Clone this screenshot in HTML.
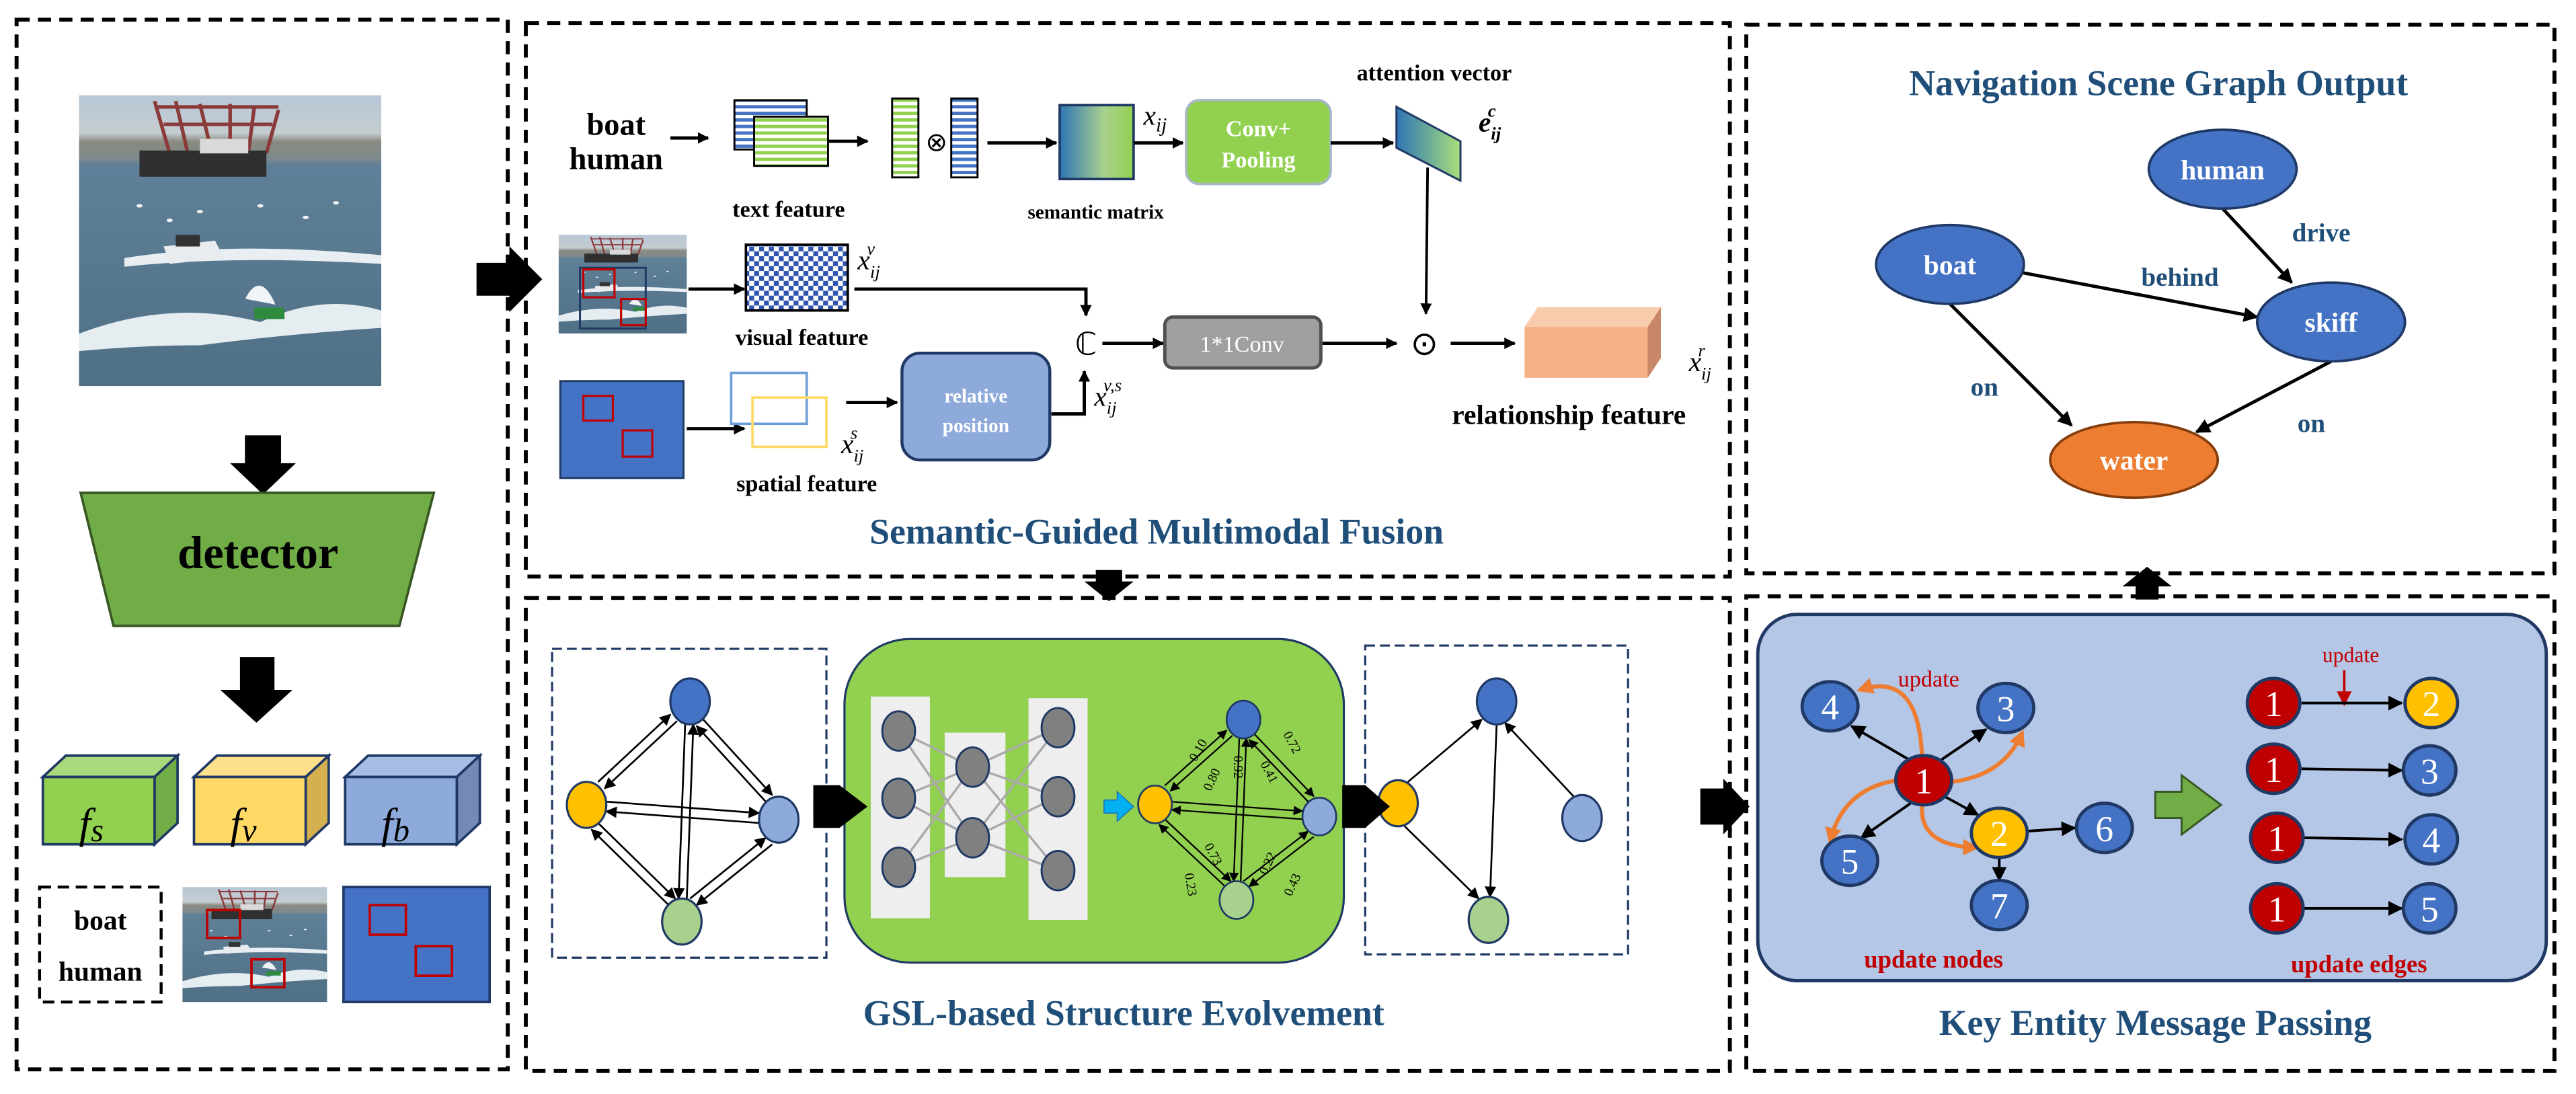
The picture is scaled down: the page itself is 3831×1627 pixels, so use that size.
<!DOCTYPE html>
<html><head><meta charset="utf-8"><style>
html,body{margin:0;padding:0;background:#fff;}
svg{display:block;}
text{font-family:"Liberation Serif",serif;}
.t{font-weight:bold;fill:#000;}
.ttl{font-weight:bold;fill:#1f4e79;}
.m{font-style:italic;}
</style></head><body>
<svg width="3831" height="1627" viewBox="0 0 1568 666" xmlns="http://www.w3.org/2000/svg">
<defs>
<marker id="a" viewBox="0 0 10 10" refX="9" refY="5" markerWidth="7" markerHeight="7" markerUnits="userSpaceOnUse" orient="auto"><path d="M0,0L10,5L0,10z" fill="#000"/></marker>
<marker id="b" viewBox="0 0 10 10" refX="9" refY="5" markerWidth="9" markerHeight="9" markerUnits="userSpaceOnUse" orient="auto"><path d="M0,0L10,5L0,10z" fill="#000"/></marker>
<marker id="o" viewBox="0 0 10 10" refX="8" refY="5" markerWidth="10" markerHeight="10" markerUnits="userSpaceOnUse" orient="auto"><path d="M0,0L10,5L0,10z" fill="#ed7d31"/></marker>
<marker id="r" viewBox="0 0 10 10" refX="9" refY="5" markerWidth="9" markerHeight="9" markerUnits="userSpaceOnUse" orient="auto"><path d="M0,0L10,5L0,10z" fill="#c00000"/></marker>
<pattern id="hb" width="4" height="4" patternUnits="userSpaceOnUse"><rect width="4" height="4" fill="#fff"/><rect width="4" height="2" fill="#4472c4"/></pattern>
<pattern id="hg" width="4" height="4" patternUnits="userSpaceOnUse"><rect width="4" height="4" fill="#fff"/><rect width="4" height="2" fill="#92d050"/></pattern>
<pattern id="ck" width="6" height="6" patternUnits="userSpaceOnUse"><rect width="6" height="6" fill="#fff"/><rect width="3" height="3" fill="#2f55b0"/><rect x="3" y="3" width="3" height="3" fill="#2f55b0"/></pattern>
<linearGradient id="sm" x1="0" x2="1"><stop offset="0" stop-color="#2e75b6"/><stop offset="0.6" stop-color="#a9d18e"/><stop offset="1" stop-color="#92d050"/></linearGradient>
<linearGradient id="ph" x1="0" y1="0" x2="0" y2="1"><stop offset="0" stop-color="#b8c8d6"/><stop offset="0.13" stop-color="#c4ccd0"/><stop offset="0.16" stop-color="#8a8a80"/><stop offset="0.22" stop-color="#7d8a8e"/><stop offset="0.24" stop-color="#5f8098"/><stop offset="1" stop-color="#4f6f85"/></linearGradient>
<g id="photo">
<rect width="100" height="100" fill="url(#ph)"/>
<g stroke="#8b3a3a" stroke-width="1.2" fill="none"><path d="M25,2L30,20M32,2L36,20M40,3L44,20M50,3L50,20M58,4L56,20M66,5L62,20M25,4L66,4M28,10L64,10"/></g>
<rect x="20" y="19" width="42" height="9" fill="#2f2f30"/>
<rect x="40" y="15" width="16" height="5" fill="#d9d9d9"/>
<g fill="#f2f2f2"><ellipse cx="20" cy="38" rx="1" ry="0.6"/><ellipse cx="40" cy="40" rx="1" ry="0.6"/><ellipse cx="60" cy="38" rx="1" ry="0.6"/><ellipse cx="75" cy="42" rx="1" ry="0.6"/><ellipse cx="85" cy="37" rx="1" ry="0.6"/><ellipse cx="30" cy="43" rx="1" ry="0.6"/></g>
<path d="M15,56Q50,50 100,55L100,58Q50,55 15,59z" fill="#e8eef2"/>
<path d="M28,52L45,50L48,56L30,58z" fill="#e9ecef"/><rect x="32" y="48" width="8" height="4" fill="#333"/>
<path d="M0,82Q30,70 60,78Q80,68 100,74L100,80Q70,82 40,86Q20,86 0,88z" fill="#e6edf1"/>
<path d="M55,70Q60,60 65,72" fill="#f0f4f6"/>
<rect x="58" y="73" width="10" height="4" fill="#2e8b3e"/>
</g>
</defs>

<g fill="none" stroke="#000" stroke-width="2.4" stroke-dasharray="8,5">
<rect x="10" y="12" width="299" height="639"/>
<rect x="320" y="14" width="733" height="337"/>
<rect x="320" y="364" width="733" height="288"/>
<rect x="1063" y="15" width="492" height="334"/>
<rect x="1063" y="363" width="492" height="289"/>
</g>

<use href="#photo" transform="translate(48,58) scale(1.84,1.77)"/>
<path d="M149,265h22v17h9l-20,19l-20,-19h9z" fill="#000"/>
<polygon points="49,300 264,300 243,381 69,381" fill="#70ad47" stroke="#375623" stroke-width="1.5"/>
<text x="157" y="346" text-anchor="middle" class="t" font-size="28">detector</text>
<path d="M146,400h21v20h11l-22,20l-22,-20h12z" fill="#000"/>
<g stroke="#1f3864" stroke-width="1.5">
<polygon points="26,473 40,460 108,460 94,473" fill="#a9d97a"/><polygon points="94,473 108,460 108,501 94,514" fill="#70ad47"/><rect x="26" y="473" width="68" height="41" fill="#92d050"/>
<polygon points="118,473 132,460 200,460 186,473" fill="#ffe08a"/><polygon points="186,473 200,460 200,501 186,514" fill="#d4b04f"/><rect x="118" y="473" width="68" height="41" fill="#ffd966"/>
<polygon points="210,473 224,460 292,460 278,473" fill="#a6bde6"/><polygon points="278,473 292,460 292,501 278,514" fill="#7489b5"/><rect x="210" y="473" width="68" height="41" fill="#8eaadb"/>
</g>
<g font-size="26" class="m"><text x="48" y="510">f<tspan font-size="20" dy="2">s</tspan></text><text x="140" y="510">f<tspan font-size="20" dy="2">v</tspan></text><text x="232" y="510">f<tspan font-size="20" dy="2">b</tspan></text></g>
<rect x="24" y="540" width="74" height="70" fill="none" stroke="#000" stroke-width="1.8" stroke-dasharray="7,4"/>
<text x="61" y="566" text-anchor="middle" class="t" font-size="17">boat</text>
<text x="61" y="597" text-anchor="middle" class="t" font-size="17">human</text>
<use href="#photo" transform="translate(111,540) scale(0.88,0.7)"/>
<rect x="126" y="554" width="20" height="17" fill="none" stroke="#c00000" stroke-width="1.5"/>
<rect x="153" y="584" width="20" height="17" fill="none" stroke="#c00000" stroke-width="1.5"/>
<rect x="209" y="540" width="89" height="70" fill="#4472c4" stroke="#1f3864" stroke-width="1.5"/>
<rect x="225" y="551" width="22" height="18" fill="none" stroke="#c00000" stroke-width="1.5"/>
<rect x="253" y="576" width="22" height="18" fill="none" stroke="#c00000" stroke-width="1.5"/>

<path d="M290,160h20v-10l20,20l-20,20v-10h-20z" fill="#000"/>

<text x="375" y="82" text-anchor="middle" class="t" font-size="19">boat</text>
<text x="375" y="103" text-anchor="middle" class="t" font-size="19">human</text>
<line x1="408" y1="84" x2="431" y2="84" stroke="#000" stroke-width="2" marker-end="url(#a)"/>
<rect x="447" y="61" width="44" height="30" fill="url(#hb)" stroke="#000" stroke-width="1.2"/>
<rect x="459" y="71" width="45" height="30" fill="url(#hg)" stroke="#000" stroke-width="1.2"/>
<line x1="504" y1="86" x2="528" y2="86" stroke="#000" stroke-width="2" marker-end="url(#a)"/>
<rect x="543" y="60" width="16" height="48" fill="url(#hg)" stroke="#000" stroke-width="1.2"/>
<text x="570" y="92" text-anchor="middle" font-size="16">⊗</text>
<rect x="579" y="60" width="16" height="48" fill="url(#hb)" stroke="#000" stroke-width="1.2"/>
<line x1="601" y1="87" x2="643" y2="87" stroke="#000" stroke-width="2" marker-end="url(#a)"/>
<rect x="645" y="64" width="45" height="45" fill="url(#sm)" stroke="#1f3864" stroke-width="1.5"/>
<text x="696" y="76" class="m" font-size="17">x<tspan font-size="12" dy="4">ij</tspan></text>
<line x1="690" y1="87" x2="720" y2="87" stroke="#000" stroke-width="2" marker-end="url(#a)"/>
<rect x="722" y="61" width="88" height="51" rx="8" fill="#92d050" stroke="#a7b7c7" stroke-width="1.5"/>
<text x="766" y="83" text-anchor="middle" font-size="14" font-weight="bold" fill="#fff">Conv+</text>
<text x="766" y="102" text-anchor="middle" font-size="14" font-weight="bold" fill="#fff">Pooling</text>
<line x1="810" y1="87" x2="848" y2="87" stroke="#000" stroke-width="2" marker-end="url(#a)"/>
<linearGradient id="av" x1="0" x2="1"><stop offset="0" stop-color="#2e75b6"/><stop offset="1" stop-color="#a9e07a"/></linearGradient>
<polygon points="850,65 889,86 889,110 850,90" fill="url(#av)" stroke="#1f3864" stroke-width="1.2"/>
<text x="873" y="49" text-anchor="middle" class="t" font-size="14">attention vector</text>
<text x="900" y="80" class="m" font-weight="bold" font-size="17">e<tspan font-size="11" dy="5">ij</tspan><tspan font-size="11" dx="-8" dy="-14">c</tspan></text>
<line x1="869" y1="102" x2="868" y2="191" stroke="#000" stroke-width="1.6" marker-end="url(#a)"/>
<text x="480" y="132" text-anchor="middle" class="t" font-size="14">text feature</text>
<text x="667" y="133" text-anchor="middle" class="t" font-size="12">semantic matrix</text>

<use href="#photo" transform="translate(340,143) scale(0.78,0.6)"/>
<rect x="353" y="163" width="40" height="37" fill="none" stroke="#1f3864" stroke-width="1.2"/>
<rect x="355" y="164" width="19" height="17" fill="none" stroke="#c00000" stroke-width="1.3"/>
<rect x="378" y="182" width="15" height="16" fill="none" stroke="#c00000" stroke-width="1.3"/>
<line x1="419" y1="176" x2="453" y2="176" stroke="#000" stroke-width="2" marker-end="url(#a)"/>
<rect x="454" y="149" width="62" height="40" fill="url(#ck)" stroke="#000" stroke-width="1.5"/>
<text x="522" y="164" class="m" font-size="17">x<tspan font-size="11" dy="5">ij</tspan><tspan font-size="11" dx="-8" dy="-14">v</tspan></text>
<polyline points="520,176 661,176 661,192" fill="none" stroke="#000" stroke-width="2" marker-end="url(#a)"/>
<text x="488" y="210" text-anchor="middle" class="t" font-size="14">visual feature</text>
<text x="661" y="216" text-anchor="middle" font-size="19">ℂ</text>
<line x1="671" y1="209" x2="708" y2="209" stroke="#000" stroke-width="2" marker-end="url(#a)"/>
<rect x="709" y="193" width="95" height="31" rx="5" fill="#a0a0a0" stroke="#505050" stroke-width="2"/>
<text x="756" y="214" text-anchor="middle" font-size="14" fill="#fff">1*1Conv</text>
<line x1="805" y1="209" x2="850" y2="209" stroke="#000" stroke-width="2" marker-end="url(#a)"/>
<text x="867" y="216" text-anchor="middle" font-size="20">⊙</text>
<line x1="883" y1="209" x2="922" y2="209" stroke="#000" stroke-width="2" marker-end="url(#a)"/>
<polygon points="928,199 936,187 1011,187 1003,199" fill="#f8cbad"/>
<polygon points="1003,199 1011,187 1011,218 1003,230" fill="#c9876a"/>
<rect x="928" y="199" width="75" height="31" fill="#f4b183"/>
<text x="1028" y="226" class="m" font-size="17">x<tspan font-size="11" dy="5">ij</tspan><tspan font-size="11" dx="-8" dy="-14">r</tspan></text>
<text x="955" y="258" text-anchor="middle" class="t" font-size="17">relationship feature</text>

<rect x="341" y="232" width="75" height="59" fill="#4472c4" stroke="#1f3864" stroke-width="1.2"/>
<rect x="355" y="241" width="18" height="15" fill="none" stroke="#c00000" stroke-width="1.3"/>
<rect x="379" y="262" width="18" height="16" fill="none" stroke="#c00000" stroke-width="1.3"/>
<line x1="418" y1="261" x2="453" y2="261" stroke="#000" stroke-width="2" marker-end="url(#a)"/>
<rect x="445" y="227" width="46" height="31" fill="none" stroke="#6f9fd8" stroke-width="1.5"/>
<rect x="458" y="242" width="45" height="30" fill="none" stroke="#ffd966" stroke-width="1.5"/>
<text x="512" y="276" class="m" font-size="17">x<tspan font-size="11" dy="5">ij</tspan><tspan font-size="11" dx="-8" dy="-14">s</tspan></text>
<line x1="515" y1="245" x2="546" y2="245" stroke="#000" stroke-width="2" marker-end="url(#a)"/>
<rect x="549" y="215" width="90" height="65" rx="11" fill="#8eaadb" stroke="#1f3864" stroke-width="1.8"/>
<text x="594" y="245" text-anchor="middle" font-size="12" font-weight="bold" fill="#fff">relative</text>
<text x="594" y="263" text-anchor="middle" font-size="12" font-weight="bold" fill="#fff">position</text>
<polyline points="640,252 660,252 660,226" fill="none" stroke="#000" stroke-width="2" marker-end="url(#a)"/>
<text x="666" y="247" class="m" font-size="17">x<tspan font-size="11" dy="5">ij</tspan><tspan font-size="11" dx="-8" dy="-14">v,s</tspan></text>
<text x="491" y="299" text-anchor="middle" class="t" font-size="14">spatial feature</text>
<text x="704" y="331" text-anchor="middle" class="ttl" font-size="22">Semantic-Guided Multimodal Fusion</text>

<path d="M667,347h16v7h7l-15,12l-15,-12h7z" fill="#000"/>

<rect x="336" y="395" width="167" height="188" fill="none" stroke="#1f3864" stroke-width="1.3" stroke-dasharray="6,3"/>
<g id="lg">
<g stroke="#000" stroke-width="1.1" marker-end="url(#a)">
<line x1="364" y1="476" x2="408" y2="435"/><line x1="412" y1="439" x2="368" y2="480"/>
<line x1="428" y1="438" x2="470" y2="484"/><line x1="466" y1="488" x2="424" y2="442"/>
<line x1="369" y1="488" x2="462" y2="495"/><line x1="462" y1="501" x2="369" y2="494"/>
<line x1="364" y1="501" x2="411" y2="547"/><line x1="407" y1="551" x2="360" y2="505"/>
<line x1="470" y1="514" x2="424" y2="551"/><line x1="420" y1="547" x2="466" y2="510"/>
<line x1="417" y1="441" x2="413" y2="547"/><line x1="418" y1="547" x2="422" y2="441"/>
</g>
<g stroke="#1f3864" stroke-width="1.3">
<ellipse cx="420" cy="427" rx="12" ry="14" fill="#4472c4"/>
<ellipse cx="357" cy="490" rx="12" ry="14" fill="#ffc000"/>
<ellipse cx="474" cy="499" rx="12" ry="14" fill="#8eaadb"/>
<ellipse cx="415" cy="561" rx="12" ry="14" fill="#a9d18e"/>
</g>
</g>
<rect x="514" y="389" width="304" height="197" rx="40" fill="#92d050" stroke="#1f3864" stroke-width="1.3"/>
<path d="M495,478h16l17,13l-17,13h-16z" fill="#000"/>
<rect x="530" y="424" width="36" height="135" fill="#eee"/>
<rect x="575" y="446" width="37" height="88" fill="#eee"/>
<rect x="626" y="425" width="36" height="135" fill="#eee"/>
<g stroke="#aaa" stroke-width="1.4">
<line x1="547" y1="445" x2="592" y2="467"/><line x1="547" y1="445" x2="592" y2="510"/>
<line x1="547" y1="486" x2="592" y2="467"/><line x1="547" y1="486" x2="592" y2="510"/>
<line x1="547" y1="528" x2="592" y2="467"/><line x1="547" y1="528" x2="592" y2="510"/>
<line x1="592" y1="467" x2="644" y2="443"/><line x1="592" y1="467" x2="644" y2="485"/><line x1="592" y1="467" x2="644" y2="530"/>
<line x1="592" y1="510" x2="644" y2="443"/><line x1="592" y1="510" x2="644" y2="485"/><line x1="592" y1="510" x2="644" y2="530"/>
</g>
<g fill="#808080" stroke="#1f3864" stroke-width="1.2">
<ellipse cx="547" cy="445" rx="10" ry="12"/><ellipse cx="547" cy="486" rx="10" ry="12"/><ellipse cx="547" cy="528" rx="10" ry="12"/>
<ellipse cx="592" cy="467" rx="10" ry="12"/><ellipse cx="592" cy="510" rx="10" ry="12"/>
<ellipse cx="644" cy="443" rx="10" ry="12"/><ellipse cx="644" cy="485" rx="10" ry="12"/><ellipse cx="644" cy="530" rx="10" ry="12"/>
</g>
<path d="M672,487h8v-5l10,9l-10,9v-5h-8z" fill="#00b0f0" stroke="#1f6fb0" stroke-width="0.6"/>
<use href="#lg" transform="translate(397.8,87.9) scale(0.855,0.82)"/>
<g font-size="8" fill="#000">
<text transform="translate(728,464) rotate(-60)">0.10</text>
<text transform="translate(737,482) rotate(-65)">0.80</text>
<text transform="translate(751,460) rotate(90)">0.92</text>
<text transform="translate(767,465) rotate(62)">0.41</text>
<text transform="translate(781,447) rotate(62)">0.72</text>
<text transform="translate(733,515) rotate(62)">0.73</text>
<text transform="translate(721,532) rotate(80)">0.23</text>
<text transform="translate(771,533) rotate(-65)">0.22</text>
<text transform="translate(786,546) rotate(-65)">0.43</text>
</g>
<rect x="831" y="393" width="160" height="188" fill="none" stroke="#1f3864" stroke-width="1.3" stroke-dasharray="6,3"/>
<g stroke="#000" stroke-width="1.1" marker-end="url(#a)">
<line x1="857" y1="476" x2="902" y2="438"/>
<line x1="958" y1="485" x2="916" y2="440"/>
<line x1="911" y1="441" x2="907" y2="546"/>
<line x1="855" y1="503" x2="900" y2="547"/>
</g>
<g stroke="#1f3864" stroke-width="1.3">
<ellipse cx="911" cy="427" rx="12" ry="14" fill="#4472c4"/>
<ellipse cx="851" cy="489" rx="12" ry="14" fill="#ffc000"/>
<ellipse cx="963" cy="498" rx="12" ry="14" fill="#8eaadb"/>
<ellipse cx="906" cy="560" rx="12" ry="14" fill="#a9d18e"/>
</g>
<path d="M817,478h14l15,13l-15,13h-14z" fill="#000"/>
<text x="684" y="624" text-anchor="middle" class="ttl" font-size="22">GSL-based Structure Evolvement</text>

<path d="M1035,480h14v-6l16,17l-16,17v-6h-14z" fill="#000"/>

<rect x="1070" y="374" width="480" height="223" rx="24" fill="#b4c7e7" stroke="#1f3864" stroke-width="2"/>
<g stroke="#000" stroke-width="1.6" marker-end="url(#b)">
<line x1="1163" y1="463" x2="1127" y2="442"/>
<line x1="1181" y1="463" x2="1209" y2="444"/>
<line x1="1163" y1="489" x2="1133" y2="510"/>
<line x1="1184" y1="485" x2="1204" y2="496"/>
<line x1="1234" y1="506" x2="1263" y2="504"/>
<line x1="1217" y1="522" x2="1217" y2="536"/>
</g>
<g fill="none" stroke="#ed7d31" stroke-width="2.5">
<path d="M1170,461Q1168,408 1132,420" marker-end="url(#o)"/>
<path d="M1188,476Q1220,472 1231,446" marker-end="url(#o)"/>
<path d="M1155,475Q1122,480 1114,512" marker-end="url(#o)"/>
<path d="M1170,490Q1168,515 1203,516" marker-end="url(#o)"/>
</g>
<text x="1174" y="418" text-anchor="middle" font-family="Liberation Sans,sans-serif" font-size="14" fill="#c00000">update</text>
<g stroke="#1f3864" stroke-width="2">
<ellipse cx="1171" cy="475" rx="17" ry="15" fill="#c00000"/>
<ellipse cx="1114" cy="430" rx="17" ry="15" fill="#4472c4"/>
<ellipse cx="1221" cy="431" rx="17" ry="15" fill="#4472c4"/>
<ellipse cx="1126" cy="524" rx="17" ry="15" fill="#4472c4"/>
<ellipse cx="1217" cy="507" rx="17" ry="15" fill="#ffc000"/>
<ellipse cx="1281" cy="504" rx="17" ry="15" fill="#4472c4"/>
<ellipse cx="1217" cy="551" rx="17" ry="15" fill="#4472c4"/>
</g>
<g fill="#fff" font-family="Liberation Sans,sans-serif" font-size="22" text-anchor="middle">
<text x="1171" y="483">1</text><text x="1114" y="438">4</text><text x="1221" y="439">3</text><text x="1126" y="532">5</text><text x="1217" y="515">2</text><text x="1281" y="512">6</text><text x="1217" y="559">7</text>
</g>
<path d="M1312,482h16v-10l24,18l-24,18v-10h-16z" fill="#70ad47" stroke="#385723" stroke-width="1.2"/>
<text x="1431" y="403" text-anchor="middle" font-family="Liberation Sans,sans-serif" font-size="13" fill="#c00000">update</text>
<line x1="1427" y1="408" x2="1427" y2="429" stroke="#c00000" stroke-width="1.5" marker-end="url(#r)"/>
<g stroke="#000" stroke-width="1.6" marker-end="url(#b)">
<line x1="1401" y1="428" x2="1462" y2="428"/>
<line x1="1401" y1="468" x2="1462" y2="469"/>
<line x1="1401" y1="510" x2="1462" y2="511"/>
<line x1="1401" y1="553" x2="1462" y2="553"/>
</g>
<g stroke="#1f3864" stroke-width="2">
<ellipse cx="1384" cy="428" rx="16" ry="15" fill="#c00000"/><ellipse cx="1480" cy="428" rx="16" ry="15" fill="#ffc000"/>
<ellipse cx="1384" cy="468" rx="16" ry="15" fill="#c00000"/><ellipse cx="1479" cy="469" rx="16" ry="15" fill="#4472c4"/>
<ellipse cx="1386" cy="510" rx="16" ry="15" fill="#c00000"/><ellipse cx="1480" cy="511" rx="16" ry="15" fill="#4472c4"/>
<ellipse cx="1386" cy="553" rx="16" ry="15" fill="#c00000"/><ellipse cx="1479" cy="553" rx="16" ry="15" fill="#4472c4"/>
</g>
<g fill="#fff" font-family="Liberation Sans,sans-serif" font-size="22" text-anchor="middle">
<text x="1384" y="436">1</text><text x="1480" y="436">2</text>
<text x="1384" y="476">1</text><text x="1479" y="477">3</text>
<text x="1386" y="518">1</text><text x="1480" y="519">4</text>
<text x="1386" y="561">1</text><text x="1479" y="561">5</text>
</g>
<text x="1177" y="589" text-anchor="middle" font-weight="bold" font-size="15" fill="#c00000">update nodes</text>
<text x="1436" y="592" text-anchor="middle" font-weight="bold" font-size="15" fill="#c00000">update edges</text>
<text x="1312" y="630" text-anchor="middle" class="ttl" font-size="22">Key Entity Message Passing</text>

<path d="M1300,365v-8h-8l15,-12l15,12h-8v8z" fill="#000"/>

<text x="1314" y="58" text-anchor="middle" class="ttl" font-size="22">Navigation Scene Graph Output</text>
<g stroke="#000" stroke-width="2" marker-end="url(#b)">
<line x1="1353" y1="127" x2="1395" y2="172"/>
<line x1="1231" y1="166" x2="1374" y2="193"/>
<line x1="1187" y1="185" x2="1261" y2="259"/>
<line x1="1419" y1="220" x2="1337" y2="263"/>
</g>
<g stroke="#1f3864" stroke-width="1.5">
<ellipse cx="1353" cy="103" rx="45" ry="24" fill="#4472c4"/>
<ellipse cx="1187" cy="161" rx="45" ry="24" fill="#4472c4"/>
<ellipse cx="1419" cy="196" rx="45" ry="24" fill="#4472c4"/>
<ellipse cx="1299" cy="280" rx="51" ry="23" fill="#ed7d31" stroke="#843c0c"/>
</g>
<g fill="#fff" font-weight="bold" font-size="17" text-anchor="middle">
<text x="1353" y="109">human</text><text x="1187" y="167">boat</text><text x="1419" y="202">skiff</text><text x="1299" y="286">water</text>
</g>
<g fill="#1f4e79" font-weight="bold" font-size="16" text-anchor="middle">
<text x="1413" y="147">drive</text><text x="1327" y="174">behind</text><text x="1208" y="241">on</text><text x="1407" y="263">on</text>
</g>
</svg>
</body></html>
